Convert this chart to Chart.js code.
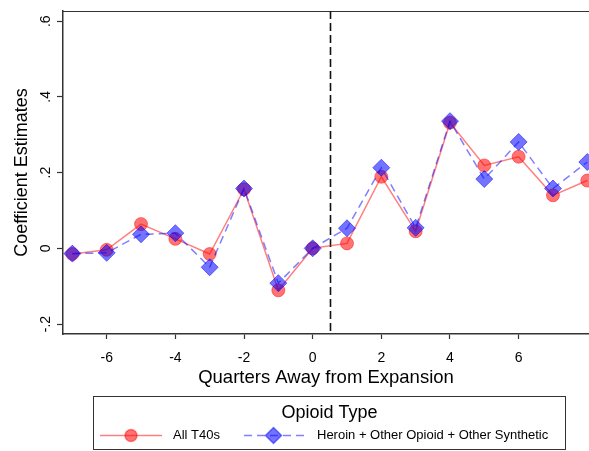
<!DOCTYPE html>
<html><head><meta charset="utf-8">
<script src="https://cdn.jsdelivr.net/npm/chart.js@4.4.1/dist/chart.umd.min.js"></script>
<style>html,body{margin:0;padding:0;background:#fff}#wrap{width:589px;height:451px}</style>
</head><body><div id="wrap"><canvas id="c" width="589" height="451"></canvas></div>
<script>
// Event-study coefficients by quarter relative to expansion
const quarters = [-7, -6, -5, -4, -3, -2, -1, 0, 1, 2, 3, 4, 5, 6, 7, 8];
const allT40s = [-0.015, -0.004, 0.064, 0.025, -0.015, 0.156, -0.111, 0, 0.013, 0.189, 0.045, 0.332, 0.219, 0.242, 0.140, 0.179];
const heroinOther = [-0.014, -0.012, 0.037, 0.040, -0.050, 0.158, -0.092, 0, 0.053, 0.213, 0.054, 0.336, 0.183, 0.281, 0.158, 0.228];
const xTicks = [-6, -4, -2, 0, 2, 4, 6];
const yTicks = [-0.2, 0, 0.2, 0.4, 0.6];
const yTickLabels = ['-.2', '0', '.2', '.4', '.6'];
const expansionQuarter = 0.5;
const seriesNames = ['All T40s', 'Heroin + Other Opioid + Other Synthetic'];
const legendTitle = 'Opioid Type';
const xTitle = 'Quarters Away from Expansion';
const yTitle = 'Coefficient Estimates';

const FONT = '"Liberation Sans", Arial, sans-serif';
const RED_LINE = 'rgba(255,0,0,0.5)';
const RED_FILL = 'rgba(255,0,0,0.55)';
const RED_EDGE = 'rgba(255,0,0,0.45)';
const BLUE_LINE = 'rgba(0,0,255,0.5)';
const BLUE_FILL = 'rgba(0,0,255,0.55)';
const BLUE_EDGE = 'rgba(0,0,255,0.5)';
const AXIS = '#333';

const toPoints = (ys) => quarters.map((q, i) => ({x: q, y: ys[i]}));

// frame top edge + dashed expansion marker
const framePlugin = {
  id: 'frame',
  beforeDatasetsDraw(chart) {
    const {ctx, chartArea: a, scales: {x}} = chart;
    ctx.save();
    ctx.strokeStyle = AXIS;
    ctx.lineWidth = 1.2;
    ctx.beginPath();
    ctx.moveTo(a.left, a.top + 0.5);
    ctx.lineTo(a.right + 5, a.top + 0.5);
    ctx.stroke();
    const px = Math.round(x.getPixelForValue(expansionQuarter)) + 0.5;
    ctx.strokeStyle = '#111';
    ctx.lineWidth = 1.6;
    ctx.setLineDash([8, 4]);
    ctx.beginPath();
    ctx.moveTo(px, a.top);
    ctx.lineTo(px, a.bottom);
    ctx.stroke();
    ctx.restore();
  }
};

// rotated y tick labels and y title
const yLabelPlugin = {
  id: 'yLabels',
  afterDraw(chart) {
    const {ctx, chartArea: a, scales: {y}} = chart;
    ctx.save();
    ctx.fillStyle = '#000';
    ctx.textAlign = 'center';
    ctx.textBaseline = 'alphabetic';
    ctx.font = '14px ' + FONT;
    yTicks.forEach((v, i) => {
      const py = y.getPixelForValue(v);
      ctx.save();
      ctx.translate(50, py);
      ctx.rotate(-Math.PI / 2);
      ctx.fillText(yTickLabels[i], 0, 0);
      ctx.restore();
    });
    ctx.font = '18px ' + FONT;
    ctx.save();
    ctx.translate(27, (a.top + a.bottom) / 2);
    ctx.rotate(-Math.PI / 2);
    ctx.fillText(yTitle, 0, 0);
    ctx.restore();
    ctx.restore();
  }
};

// boxed legend with title
const boxLegendPlugin = {
  id: 'boxLegend',
  afterDraw(chart) {
    const {ctx} = chart;
    const box = {l: 93.5, t: 396.5, r: 565.5, b: 449.5};
    ctx.save();
    ctx.strokeStyle = AXIS;
    ctx.lineWidth = 1;
    ctx.strokeRect(box.l, box.t, box.r - box.l, box.b - box.t);
    ctx.fillStyle = '#000';
    ctx.textAlign = 'center';
    ctx.textBaseline = 'middle';
    ctx.font = '18px ' + FONT;
    ctx.fillText(legendTitle, 329.5, 413.5);
    const iy = 435.5;
    // red entry
    ctx.strokeStyle = RED_LINE;
    ctx.lineWidth = 1.5;
    ctx.beginPath(); ctx.moveTo(100, iy); ctx.lineTo(162, iy); ctx.stroke();
    ctx.fillStyle = RED_FILL; ctx.strokeStyle = RED_EDGE;
    ctx.beginPath(); ctx.arc(131, iy, 6, 0, Math.PI * 2); ctx.fill(); ctx.stroke();
    // blue entry
    ctx.strokeStyle = BLUE_LINE;
    ctx.setLineDash([8, 5]);
    ctx.beginPath(); ctx.moveTo(244, iy); ctx.lineTo(307, iy); ctx.stroke();
    ctx.setLineDash([]);
    ctx.fillStyle = BLUE_FILL; ctx.strokeStyle = BLUE_EDGE;
    ctx.beginPath();
    ctx.moveTo(273.5, iy - 8); ctx.lineTo(281.5, iy); ctx.lineTo(273.5, iy + 8); ctx.lineTo(265.5, iy);
    ctx.closePath(); ctx.fill(); ctx.stroke();
    ctx.fillStyle = '#000';
    ctx.textAlign = 'left';
    ctx.font = '13px ' + FONT;
    ctx.fillText(seriesNames[0], 173, iy);
    ctx.fillText(seriesNames[1], 317, iy);
    ctx.restore();
  }
};

new Chart(document.getElementById('c'), {
  type: 'line',
  data: {
    datasets: [
      {
        label: seriesNames[0],
        data: toPoints(allT40s),
        borderColor: RED_LINE,
        borderWidth: 1.5,
        pointStyle: 'circle',
        pointRadius: 6.5,
        pointBackgroundColor: RED_FILL,
        pointBorderColor: RED_EDGE,
        pointBorderWidth: 1,
        tension: 0,
        clip: false,
        order: 1
      },
      {
        label: seriesNames[1],
        data: toPoints(heroinOther),
        borderColor: BLUE_LINE,
        borderWidth: 1.5,
        borderDash: [8, 5],
        pointStyle: 'rectRot',
        pointRadius: 8.5,
        pointBackgroundColor: BLUE_FILL,
        pointBorderColor: BLUE_EDGE,
        pointBorderWidth: 1,
        tension: 0,
        clip: false,
        order: 0
      }
    ]
  },
  options: {
    responsive: false,
    devicePixelRatio: 1,
    animation: false,
    events: [],
    layout: {autoPadding: false, padding: {top: 11, right: 0, bottom: 62, left: 0}},
    plugins: {legend: {display: false}, tooltip: {enabled: false}, title: {display: false}},
    scales: {
      x: {
        type: 'linear',
        min: -7.273,
        max: 8.05,
        afterBuildTicks: (s) => { s.ticks = xTicks.map(v => ({value: v})); },
        afterFit: (s) => { s.height = 55; },
        ticks: {
          color: '#000',
          font: {family: FONT, size: 14},
          padding: 11,
          maxRotation: 0,
          autoSkip: false,
          callback: (v) => String(v)
        },
        grid: {drawOnChartArea: false, drawTicks: true, tickLength: 5, tickColor: AXIS, tickWidth: 1.2},
        border: {display: true, color: AXIS, width: 1.5},
        title: {display: true, text: xTitle, color: '#000', font: {family: FONT, size: 18.5}, padding: {top: 0, bottom: 0}}
      },
      y: {
        type: 'linear',
        min: -0.2264,
        max: 0.627,
        afterBuildTicks: (s) => { s.ticks = yTicks.map(v => ({value: v})); },
        afterFit: (s) => { s.width = 63; },
        ticks: {display: false},
        grid: {drawOnChartArea: false, drawTicks: true, tickLength: 6, tickColor: AXIS, tickWidth: 1.2},
        border: {display: true, color: AXIS, width: 1.5}
      }
    }
  },
  plugins: [framePlugin, yLabelPlugin, boxLegendPlugin]
});
</script>
</body></html>
